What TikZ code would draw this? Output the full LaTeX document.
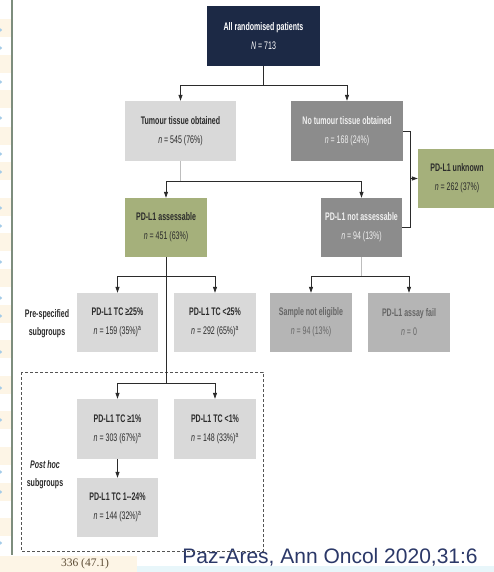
\documentclass[tikz,border=0pt]{standalone}
\usepackage{fontspec}
\setmainfont{Liberation Sans}
\newfontfamily\nar[FakeStretch=0.64]{Liberation Sans}
\newfontfamily\refserif{Liberation Serif}
\usetikzlibrary{arrows.meta,calc}
\definecolor{navy}{HTML}{1C2945}
\definecolor{lgrey}{HTML}{D9D9D9}
\definecolor{dgrey}{HTML}{8C8C8C}
\definecolor{mgrey}{HTML}{B5B5B5}
\definecolor{olive}{HTML}{A5B07B}
\definecolor{txt}{HTML}{2B2B2B}
\definecolor{stemgrey}{HTML}{BDBDBD}
\definecolor{cream}{HTML}{FDF5E6}
\definecolor{dotblue}{HTML}{A3CBE8}
\definecolor{refblue}{HTML}{2B3868}
\definecolor{edgeline}{HTML}{7D8D7D}
\definecolor{paleblue}{HTML}{E8F6FA}
\definecolor{pagebrown}{HTML}{5C4B34}
\definecolor{lighttxt}{HTML}{F0F0F0}
\definecolor{greytxt}{HTML}{666666}
\definecolor{dashgrey}{HTML}{555555}
\begin{document}
\begin{tikzpicture}[x=1pt,y=-1pt,
  fbox/.style={rectangle, inner sep=0pt, align=center, text=txt,
    font=\nar\fontsize{11}{19}\selectfont},
  conn/.style={draw=txt, line width=0.8pt},
  stem/.style={draw=stemgrey, line width=1pt},
  arr/.style={conn, -{Triangle[length=6pt,width=4pt]}},
  lab/.style={align=center, text=txt, font=\nar\bfseries\fontsize{11}{18}\selectfont}]
\useasboundingbox (0,0) rectangle (494,572);
\fill[white] (0,0) rectangle (494,572);
% left decorations
\foreach \y in {19,55,90,127,162,198,233,269,305,340,376,411,447,483,518}
  \fill[cream] (0,\y) rectangle (11,\y+18);
\foreach \y in {30,48,82,118,154,172,208,226,262,298,316,352,388,420,472,492,543}
  \fill[dotblue] (0.5,\y) circle (1.6);
\draw[draw=edgeline, line width=1.2pt] (12,0) -- (12,555);
\fill[cream] (0,556) rectangle (137,572);
\fill[paleblue] (137,566) rectangle (494,572);
\node[text=pagebrown, font=\refserif\fontsize{11.5}{12}\selectfont] (pg) at (85,564) {336 (47.1)};
\node[text=refblue, font=\fontsize{21}{22}\selectfont, inner sep=0pt] (ref) at (330,557) {Paz-Ares, Ann Oncol 2020,31:6};

% boxes
\node[fbox, fill=navy, text=white, minimum width=113pt, minimum height=60pt] (top) at (263.5,36)
  {\textbf{All randomised patients}\\\textit{N} = 713};
\node[fbox, fill=lgrey, minimum width=111pt, minimum height=60pt] (tum) at (180.5,131)
  {\textbf{Tumour tissue obtained}\\\textit{n} = 545 (76\%)};
\node[fbox, fill=dgrey, text=lighttxt, minimum width=112pt, minimum height=60pt] (notum) at (347,131)
  {\textbf{No tumour tissue obtained}\\\textit{n} = 168 (24\%)};
\node[fbox, fill=olive, minimum width=78pt, minimum height=59pt] (unk) at (457,178.5)
  {\textbf{PD-L1 unknown}\\\textit{n} = 262 (37\%)};
\node[fbox, fill=olive, minimum width=82pt, minimum height=59pt] (ass) at (166,227.5)
  {\textbf{PD-L1 assessable}\\\textit{n} = 451 (63\%)};
\node[fbox, fill=dgrey, text=lighttxt, minimum width=81pt, minimum height=59pt] (notass) at (361.5,227.5)
  {\textbf{PD-L1 not assessable}\\\textit{n} = 94 (13\%)};
\node[fbox, fill=lgrey, minimum width=81pt, minimum height=59pt] (ge25) at (117.5,322.5)
  {\textbf{PD-L1 TC ≥25\%}\\\textit{n} = 159 (35\%)\textsuperscript{a}};
\node[fbox, fill=lgrey, minimum width=82pt, minimum height=59pt] (lt25) at (215,322.5)
  {\textbf{PD-L1 TC <25\%}\\\textit{n} = 292 (65\%)\textsuperscript{a}};
\node[fbox, fill=mgrey, text=greytxt, minimum width=82pt, minimum height=59pt] (sne) at (311,322.5)
  {\textbf{Sample not eligible}\\\textit{n} = 94 (13\%)};
\node[fbox, fill=mgrey, text=greytxt, minimum width=82pt, minimum height=59pt] (fail) at (409,322.5)
  {\textbf{PD-L1 assay fail}\\\textit{n} = 0};
\node[fbox, fill=lgrey, minimum width=81pt, minimum height=60pt] (ge1) at (117.5,429)
  {\textbf{PD-L1 TC ≥1\%}\\\textit{n} = 303 (67\%)\textsuperscript{a}};
\node[fbox, fill=lgrey, minimum width=82pt, minimum height=60pt] (lt1) at (215,429)
  {\textbf{PD-L1 TC <1\%}\\\textit{n} = 148 (33\%)\textsuperscript{a}};
\node[fbox, fill=lgrey, minimum width=81pt, minimum height=59pt] (tc124) at (117.5,507.5)
  {\textbf{PD-L1 TC 1--24\%}\\\textit{n} = 144 (32\%)\textsuperscript{a}};

% labels
\node[lab] (pre) at (47,324) {Pre-specified\\subgroups};
\node[lab] (post) at (45,475) {\textit{Post hoc}\\subgroups};

% dashed frame
\draw[draw=dashgrey, line width=0.8pt, dash pattern=on 3pt off 2pt] (21,372) rectangle (263,551);

% connectors
\draw[conn] (top.south) -- ++(0,19) coordinate (j0);
\draw[arr] (j0) -| (tum.north);
\draw[arr] (j0) -| (notum.north);

\draw[stem] (tum.south) -- ++(0,20) coordinate (j1);
\draw[arr] (j1) -| (ass.north);
\draw[arr] (j1) -| (notass.north);

\draw[conn] (notum.east) -- ++(7,0) coordinate (j2) |- (notass.east);
\draw[arr] (j2 |- unk.west) -- (unk.west);

\draw[conn] (ass.south) -- ++(0,19) coordinate (j3);
\draw[arr] (j3) -| (ge25.north);
\draw[arr] (j3) -| (lt25.north);
\draw[conn] (j3) -- (j3 |- 0,383) coordinate (j4);
\draw[arr] (j4) -| (ge1.north);
\draw[arr] (j4) -| (lt1.north);

\draw[stem] (notass.south) -- ++(0,19) coordinate (j5);
\draw[arr] (j5) -| (sne.north);
\draw[arr] (j5) -| (fail.north);

\draw[arr] (ge1.south) -- (tc124.north);
\end{tikzpicture}
\end{document}
